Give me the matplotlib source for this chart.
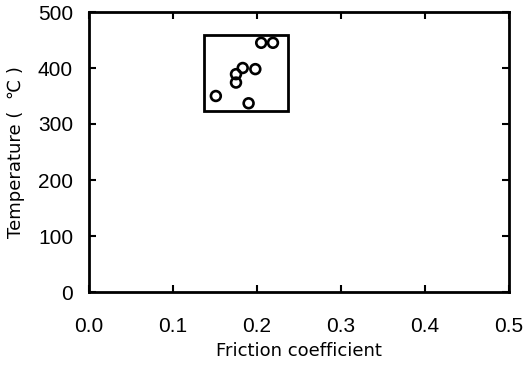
import matplotlib
matplotlib.use("Agg")
import matplotlib.pyplot as plt
from matplotlib.patches import Rectangle

plt.rcParams['font.family'] = ['Liberation Sans', 'DejaVu Sans']

friction = [0.205, 0.219, 0.183, 0.198, 0.175, 0.175, 0.151, 0.190]
temperature = [445, 445, 400, 398, 389, 374, 350, 337]
box_x = [0.137, 0.237]
box_y = [323, 459]
xticks = [0.0, 0.1, 0.2, 0.3, 0.4, 0.5]
yticks = [0, 100, 200, 300, 400, 500]

fig = plt.figure(figsize=(5.23, 3.66), dpi=100)
ax = fig.add_axes([89/523, 1-292/366, 420/523, 280/366])

ax.add_patch(Rectangle((box_x[0], box_y[0]), box_x[1]-box_x[0], box_y[1]-box_y[0],
                       fill=False, edgecolor='black', linewidth=2))
ax.scatter(friction, temperature, s=50, facecolors='none', edgecolors='black', linewidths=1.9, zorder=3)

ax.set_xlim(0, 0.5)
ax.set_ylim(0, 500)
ax.set_xticks(xticks)
ax.set_xticklabels([f"{v:.1f}" for v in xticks])
ax.set_yticks(yticks)
ax.tick_params(direction='in', length=5, width=1.5, top=True, right=True, labelsize=15)
ax.tick_params(axis='x', pad=18)
ax.tick_params(axis='y', pad=11.5)
for s in ax.spines.values():
    s.set_linewidth(2)
ax.set_xlabel("Friction coefficient", fontsize=13, family=['DejaVu Sans'])
ax.set_ylabel("Temperature (  \u2103 )", fontsize=13, family=['DejaVu Sans'])
ax.xaxis.set_label_coords(0.5, (292-351)/280)
ax.xaxis.label.set_va('center')
ax.yaxis.set_label_coords((16-89)/420, 0.5)
ax.yaxis.label.set_va('center')

fig.savefig("out.png", dpi=100)
